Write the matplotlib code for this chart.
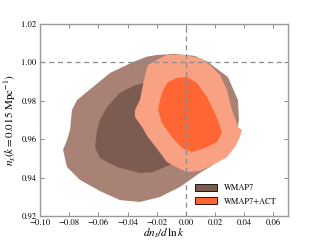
import matplotlib
matplotlib.use("Agg")
import matplotlib.pyplot as plt
from matplotlib.patches import Polygon, Patch

plt.rcParams['font.family'] = ['STIXGeneral', 'DejaVu Serif']
plt.rcParams['mathtext.fontset'] = 'stix'

# contour outlines (dn_s/dlnk, n_s)
wmap7_95_x = [-0.0198, -0.0075, 0.0062, 0.0151, 0.0288, 0.0357, 0.0364, 0.0343, 0.027, 0.0165,
              0.0097, -0.0041, -0.0178, -0.0315, -0.0452, -0.0589, -0.0726, -0.0815, -0.0842,
              -0.0815, -0.0794, -0.0781, -0.0746, -0.0637, -0.0520, -0.0363, -0.0266]
wmap7_95_y = [1.0039, 1.0044, 1.0034, 1.0002, 0.9924, 0.9804, 0.9700, 0.962, 0.952, 0.9456,
              0.9425, 0.9351, 0.9299, 0.9273, 0.9283, 0.9330, 0.9388, 0.9455, 0.9544,
              0.9596, 0.9648, 0.9752, 0.9804, 0.9872, 0.9945, 1.0002, 1.0030]

wmap7_68_x = [-0.0294, -0.0178, -0.0075, -0.0006, 0.0014, -0.0020, -0.0109, -0.0225, -0.0315,
              -0.0472, -0.0589, -0.0623, -0.0609, -0.0589, -0.0541, -0.0452, -0.0363]
wmap7_68_y = [0.9893, 0.9877, 0.9830, 0.9742, 0.9622, 0.9533, 0.9466, 0.9429, 0.9424,
              0.9455, 0.9502, 0.9559, 0.9648, 0.9700, 0.9768, 0.9841, 0.9877]

act_95_x = [-0.0260, -0.0198, -0.0130, -0.0020, 0.0097, 0.0165, 0.0234, 0.0282, 0.0316, 0.0357,
            0.0384, 0.0371, 0.0336, 0.0282, 0.0186, 0.0097, 0.0008, -0.0054, -0.0130, -0.0191,
            -0.0260, -0.0301, -0.0349, -0.0349, -0.0315, -0.0294, -0.0280]
act_95_y = [0.9986, 1.0013, 1.0039, 1.0039, 1.0023, 0.9986, 0.9934, 0.9856, 0.9752, 0.9664,
            0.9648, 0.9611, 0.9559, 0.9507, 0.9466, 0.9435, 0.9429, 0.9450, 0.9481, 0.9544,
            0.9611, 0.9664, 0.9716, 0.9752, 0.9804, 0.9883, 0.9934]

act_68_x = [-0.0061, 0.0008, 0.0076, 0.0145, 0.0199, 0.0227, 0.0247, 0.0213, 0.0131, 0.0042,
            -0.0027, -0.0095, -0.0164, -0.0191, -0.0178, -0.0157, -0.0123]
act_68_y = [0.9919, 0.9924, 0.9893, 0.9820, 0.9736, 0.9684, 0.9632, 0.9585, 0.9554, 0.9533,
            0.9554, 0.9611, 0.9684, 0.9752, 0.9804, 0.9856, 0.9898]

labels = ['WMAP7', 'WMAP7+ACT']
c_w95, c_w68 = '#a88274', '#7c5c50'
c_a95, c_a68 = '#f8a283', '#ff6633'

fig = plt.figure(figsize=(3.2, 2.4), dpi=100)
ax = fig.add_axes([0.125, 0.1, 0.775, 0.8])

for xs, ys, c in [(wmap7_95_x, wmap7_95_y, c_w95), (wmap7_68_x, wmap7_68_y, c_w68),
                  (act_95_x, act_95_y, c_a95), (act_68_x, act_68_y, c_a68)]:
    ax.add_patch(Polygon(list(zip(xs, ys)), closed=True, facecolor=c, edgecolor='none', zorder=1))

ax.axvline(0.0, color='#8a8a8a', lw=0.9, ls=(0, (4, 3)), zorder=3)
ax.axhline(1.0, color='#8a8a8a', lw=0.9, ls=(0, (4, 3)), zorder=3)

ax.set_xlim(-0.10, 0.07)
ax.set_ylim(0.92, 1.02)
ax.set_xticks([-0.10, -0.08, -0.06, -0.04, -0.02, 0.00, 0.02, 0.04, 0.06])
ax.set_yticks([0.92, 0.94, 0.96, 0.98, 1.00, 1.02])
ax.set_xticklabels(['\u22120.10', '\u22120.08', '\u22120.06', '\u22120.04', '\u22120.02',
                    '0.00', '0.02', '0.04', '0.06'])
ax.set_yticklabels(['0.92', '0.94', '0.96', '0.98', '1.00', '1.02'])
ax.tick_params(direction='in', top=True, right=True, length=3, width=0.6,
               color='#777777', labelsize=6.2, pad=2.5)
for s in ax.spines.values():
    s.set_color('#999999')
    s.set_linewidth(1.0)

ax.set_xlabel(r'$dn_s/d\,\ln k$', fontsize=8, labelpad=-0.5)
ax.set_ylabel(r'$n_s(k=0.015\ \mathrm{Mpc}^{-1})$', fontsize=8, labelpad=2)

handles = [Patch(facecolor=c_w68, edgecolor='black', lw=0.6),
           Patch(facecolor=c_a68, edgecolor='black', lw=0.6)]
ax.legend(handles, labels, loc='lower right', frameon=False, fontsize=6,
          handlelength=2.6, handleheight=0.9, handletextpad=0.9, labelspacing=0.6,
          borderaxespad=0.6, bbox_to_anchor=(0.99, 0.01))

fig.savefig('out.png', dpi=100)
